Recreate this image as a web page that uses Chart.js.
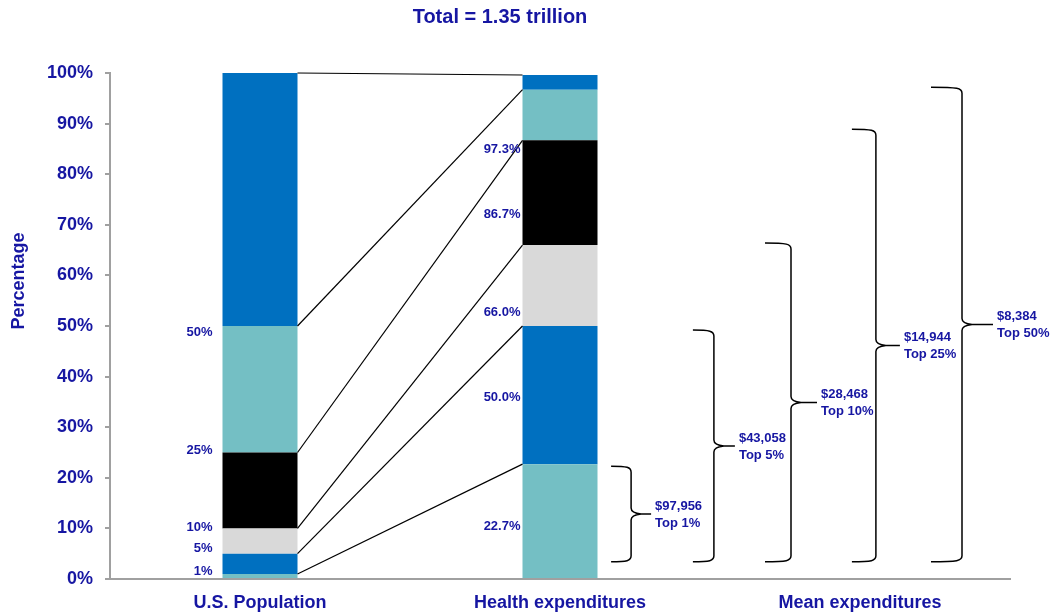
<!DOCTYPE html>
<html>
<head>
<meta charset="utf-8">
<script src="https://cdn.jsdelivr.net/npm/chart.js@4.4.1/dist/chart.umd.min.js"></script>
<style>
  body { margin: 0; background: #ffffff; }
  canvas { display: block; }
</style>
</head>
<body>
<canvas id="chart" width="1055" height="614"></canvas>
<script>
// data
const categories = ['U.S. Population', 'Health expenditures', 'Mean expenditures'];
const popShares = [1, 4, 5, 15, 25, 50];
const healthShares = [22.7, 27.3, 16.0, 20.7, 10.0, 2.9];
const segmentColors = ['#74bfc4', '#0070c0', '#d9d9d9', '#000000', '#74bfc4', '#0070c0'];
const popLabels = ['1%', '5%', '10%', '25%', '50%'];
const healthLabels = ['22.7%', '50.0%', '66.0%', '86.7%', '97.3%'];
const meanValues = ['$97,956', '$43,058', '$28,468', '$14,944', '$8,384'];
const meanGroups = ['Top 1%', 'Top 5%', 'Top 10%', 'Top 25%', 'Top 50%'];
const bracketTops = [22.3, 49.2, 66.4, 88.9, 97.2];
const bracketBottom = 3.4;

// layout only (where labels / braces sit)
const popLabelY = [1.4, 6.1, 10.1, 25.5, 48.8];
const healthLabelY = [10.3, 35.8, 52.6, 72.1, 84.8];
const bracketX = [1.237, 1.513, 1.77, 2.053, 2.34];
const bracketArm = [20, 21, 26, 24, 31];

const textBlue = '#1616a2';
const fontFamily = "'Liberation Sans', Arial, sans-serif";

const datasets = popShares.map((v, i) => ({
  data: [v, healthShares[i], null],
  backgroundColor: segmentColors[i],
  borderWidth: 0,
  categoryPercentage: 1,
  barPercentage: 0.25
}));

function cumulative(arr) {
  let s = 0;
  return arr.map(v => (s += v));
}

const extras = {
  id: 'extras',
  afterDatasetsDraw(chart) {
    const ctx = chart.ctx;
    const x = chart.scales.x;
    const y = chart.scales.y;
    const bar0 = chart.getDatasetMeta(0).data[0];
    const bar1 = chart.getDatasetMeta(0).data[1];
    const popRight = bar0.x + bar0.width / 2;
    const popLeft = bar0.x - bar0.width / 2;
    const healthLeft = bar1.x - bar1.width / 2;
    const popCum = cumulative(popShares);
    const healthCum = cumulative(healthShares);

    ctx.save();
    // connecting lines
    ctx.strokeStyle = '#000';
    ctx.lineWidth = 1.2;
    popCum.forEach((v, i) => {
      ctx.beginPath();
      ctx.moveTo(popRight, y.getPixelForValue(v));
      ctx.lineTo(healthLeft, y.getPixelForValue(healthCum[i]));
      ctx.stroke();
    });

    // bar labels
    ctx.fillStyle = textBlue;
    ctx.font = 'bold 13px ' + fontFamily;
    ctx.textAlign = 'right';
    ctx.textBaseline = 'middle';
    popLabels.forEach((t, i) => ctx.fillText(t, popLeft - 10, y.getPixelForValue(popLabelY[i])));
    healthLabels.forEach((t, i) => ctx.fillText(t, healthLeft - 2, y.getPixelForValue(healthLabelY[i])));

    // braces
    const step = x.getPixelForValue(2) - x.getPixelForValue(1);
    const yb = y.getPixelForValue(bracketBottom);
    bracketTops.forEach((top, i) => {
      const xv = x.getPixelForValue(1) + (bracketX[i] - 1) * step;
      const xl = xv - bracketArm[i];
      const xm = xv + bracketArm[i];
      const yt = y.getPixelForValue(top);
      const ym = (yt + yb) / 2;
      ctx.strokeStyle = '#000';
      ctx.lineWidth = 1.5;
      ctx.beginPath();
      ctx.moveTo(xl, yt);
      ctx.bezierCurveTo(xv - 4, yt, xv, yt + 1, xv, yt + 6);
      ctx.lineTo(xv, ym - 6);
      ctx.quadraticCurveTo(xv, ym - 1, xv + 10, ym);
      ctx.lineTo(xm, ym);
      ctx.moveTo(xv + 10, ym);
      ctx.quadraticCurveTo(xv, ym + 1, xv, ym + 6);
      ctx.lineTo(xv, yb - 6);
      ctx.bezierCurveTo(xv, yb - 1, xv - 4, yb, xl, yb);
      ctx.stroke();

      ctx.textAlign = 'left';
      ctx.fillText(meanValues[i], xm + 4, ym - 8);
      ctx.fillText(meanGroups[i], xm + 4, ym + 9);
    });

    // title and y axis title
    ctx.font = 'bold 20px ' + fontFamily;
    ctx.textAlign = 'center';
    ctx.fillText('Total = 1.35 trillion', 500, 17);
    ctx.font = 'bold 18px ' + fontFamily;
    ctx.translate(19, 281);
    ctx.rotate(-Math.PI / 2);
    ctx.fillText('Percentage', 0, 0);
    ctx.restore();
  }
};

new Chart(document.getElementById('chart'), {
  type: 'bar',
  data: { labels: categories, datasets: datasets },
  options: {
    responsive: false,
    animation: false,
    layout: { padding: { top: 73, right: 45, left: 0, bottom: 0 } },
    plugins: { legend: { display: false }, tooltip: { enabled: false } },
    scales: {
      x: {
        stacked: true,
        afterFit(scale) { scale.height = 35; },
        grid: { display: false, drawTicks: false },
        border: { display: true, color: '#a0a0a0', width: 2 },
        ticks: { color: textBlue, padding: 13, font: { family: fontFamily, size: 18, weight: 'bold' } }
      },
      y: {
        stacked: true,
        min: 0,
        max: 100,
        afterFit(scale) { scale.width = 110; },
        grid: { drawOnChartArea: false, drawTicks: true, tickLength: 5, color: '#a0a0a0', lineWidth: 2 },
        border: { display: true, color: '#a0a0a0', width: 2 },
        ticks: {
          stepSize: 10,
          padding: 12,
          color: textBlue,
          font: { family: fontFamily, size: 18, weight: 'bold' },
          callback: v => v + '%'
        }
      }
    }
  },
  plugins: [extras]
});
</script>
</body>
</html>
